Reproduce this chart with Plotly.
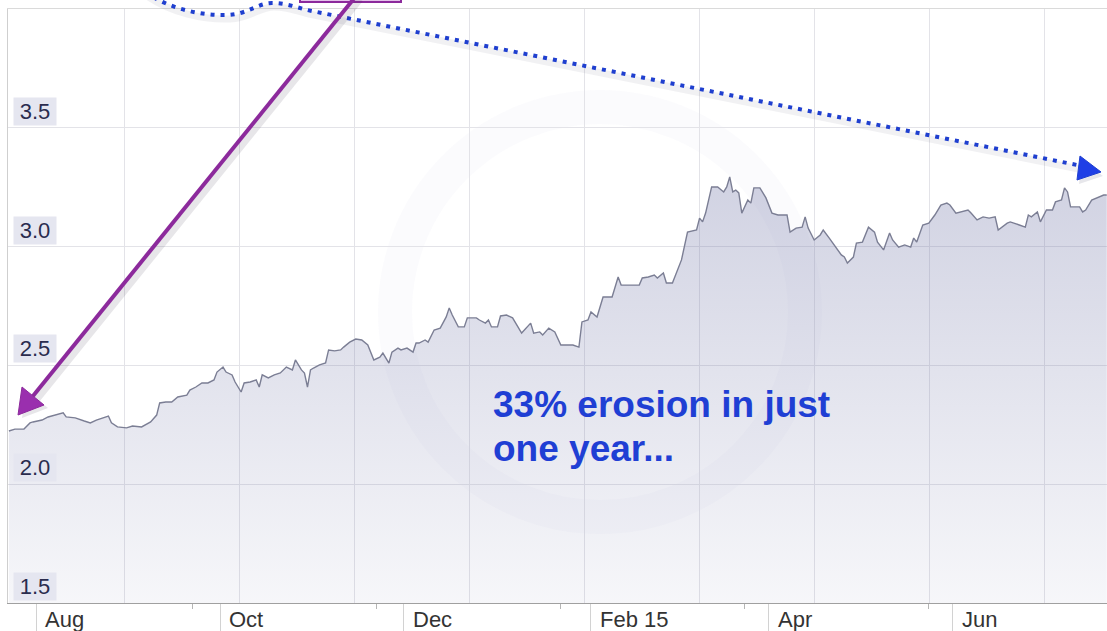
import plotly.graph_objects as go

# ---- exchange-rate series (one year of closes) ----
DATES = [
    "2014-07-23", "2014-07-25", "2014-07-28", "2014-07-30", "2014-07-31", "2014-08-03", "2014-08-05",
    "2014-08-07", "2014-08-10", "2014-08-11", "2014-08-14", "2014-08-17", "2014-08-19", "2014-08-21",
    "2014-08-25", "2014-08-26", "2014-08-28", "2014-08-31", "2014-09-02", "2014-09-05", "2014-09-08",
    "2014-09-10", "2014-09-11", "2014-09-13", "2014-09-15", "2014-09-17", "2014-09-20", "2014-09-21",
    "2014-09-23", "2014-09-25", "2014-09-27", "2014-09-29", "2014-09-30", "2014-10-02", "2014-10-03",
    "2014-10-05", "2014-10-06", "2014-10-08", "2014-10-09", "2014-10-11", "2014-10-13", "2014-10-14",
    "2014-10-15", "2014-10-17", "2014-10-19", "2014-10-21", "2014-10-23", "2014-10-25", "2014-10-26",
    "2014-10-28", "2014-10-29", "2014-10-30", "2014-10-31", "2014-11-01", "2014-11-03", "2014-11-05",
    "2014-11-06", "2014-11-08", "2014-11-10", "2014-11-11", "2014-11-13", "2014-11-15", "2014-11-17",
    "2014-11-19", "2014-11-20", "2014-11-21", "2014-11-23", "2014-11-24", "2014-11-26", "2014-11-27",
    "2014-11-29", "2014-11-30", "2014-12-02", "2014-12-04", "2014-12-05", "2014-12-06", "2014-12-08",
    "2014-12-09", "2014-12-11", "2014-12-13", "2014-12-15", "2014-12-16", "2014-12-17", "2014-12-19",
    "2014-12-21", "2014-12-22", "2014-12-25", "2014-12-26", "2014-12-28", "2014-12-29", "2014-12-30",
    "2015-01-01", "2015-01-02", "2015-01-04", "2015-01-06", "2015-01-07", "2015-01-09", "2015-01-12",
    "2015-01-13", "2015-01-15", "2015-01-16", "2015-01-18", "2015-01-20", "2015-01-22", "2015-01-24",
    "2015-01-26", "2015-01-28", "2015-01-29", "2015-01-31", "2015-02-01", "2015-02-03", "2015-02-04",
    "2015-02-05", "2015-02-08", "2015-02-09", "2015-02-10", "2015-02-11", "2015-02-14", "2015-02-17",
    "2015-02-18", "2015-02-20", "2015-02-22", "2015-02-23", "2015-02-25", "2015-02-26", "2015-02-28",
    "2015-03-03", "2015-03-05", "2015-03-08", "2015-03-09", "2015-03-10", "2015-03-11", "2015-03-13",
    "2015-03-15", "2015-03-17", "2015-03-18", "2015-03-19", "2015-03-20", "2015-03-21", "2015-03-22",
    "2015-03-23", "2015-03-25", "2015-03-26", "2015-03-27", "2015-03-29", "2015-03-31", "2015-04-02",
    "2015-04-04", "2015-04-07", "2015-04-08", "2015-04-10", "2015-04-12", "2015-04-13", "2015-04-14",
    "2015-04-16", "2015-04-18", "2015-04-19", "2015-04-21", "2015-04-23", "2015-04-25", "2015-04-26",
    "2015-04-27", "2015-04-29", "2015-04-30", "2015-05-02", "2015-05-04", "2015-05-06", "2015-05-07",
    "2015-05-09", "2015-05-11", "2015-05-12", "2015-05-14", "2015-05-16", "2015-05-18", "2015-05-19",
    "2015-05-20", "2015-05-22", "2015-05-24", "2015-05-26", "2015-05-28", "2015-05-30", "2015-05-31",
    "2015-06-02", "2015-06-04", "2015-06-06", "2015-06-07", "2015-06-09", "2015-06-11", "2015-06-13",
    "2015-06-15", "2015-06-16", "2015-06-19", "2015-06-20", "2015-06-23", "2015-06-25", "2015-06-26",
    "2015-06-27", "2015-06-29", "2015-06-30", "2015-07-02", "2015-07-04", "2015-07-05", "2015-07-07",
    "2015-07-08", "2015-07-09", "2015-07-10", "2015-07-13", "2015-07-14", "2015-07-15", "2015-07-17",
    "2015-07-19", "2015-07-21", "2015-07-22",
]

RATES = [
    2.224, 2.232, 2.232, 2.258, 2.262, 2.270, 2.283,
    2.291, 2.300, 2.283, 2.279, 2.266, 2.258, 2.270,
    2.287, 2.258, 2.241, 2.237, 2.245, 2.241, 2.262,
    2.291, 2.342, 2.346, 2.346, 2.367, 2.375, 2.396,
    2.409, 2.426, 2.426, 2.439, 2.472, 2.493, 2.472,
    2.460, 2.430, 2.388, 2.426, 2.430, 2.439, 2.409,
    2.460, 2.447, 2.460, 2.468, 2.493, 2.481, 2.523,
    2.481, 2.468, 2.409, 2.481, 2.489, 2.502, 2.510,
    2.565, 2.561, 2.565, 2.577, 2.598, 2.611, 2.607,
    2.586, 2.556, 2.523, 2.535, 2.552, 2.510, 2.556,
    2.573, 2.565, 2.573, 2.556, 2.594, 2.594, 2.607,
    2.598, 2.649, 2.657, 2.704, 2.742, 2.712, 2.662,
    2.662, 2.700, 2.700, 2.691, 2.678, 2.691, 2.662,
    2.662, 2.708, 2.712, 2.700, 2.678, 2.636, 2.678,
    2.636, 2.641, 2.628, 2.657, 2.641, 2.586, 2.586,
    2.586, 2.577, 2.683, 2.691, 2.725, 2.704, 2.746,
    2.788, 2.788, 2.826, 2.872, 2.838, 2.838, 2.838,
    2.868, 2.872, 2.880, 2.868, 2.889, 2.847, 2.847,
    2.944, 3.061, 3.070, 3.120, 3.104, 3.141, 3.251,
    3.251, 3.230, 3.251, 3.293, 3.230, 3.238, 3.226,
    3.141, 3.196, 3.183, 3.247, 3.247, 3.205, 3.141,
    3.133, 3.133, 3.061, 3.078, 3.082, 3.125, 3.078,
    3.028, 3.049, 3.070, 3.036, 2.998, 2.965, 2.956,
    2.931, 2.956, 3.015, 3.019, 3.082, 3.061, 3.019,
    2.986, 3.057, 3.028, 2.998, 3.007, 2.998, 3.036,
    3.019, 3.091, 3.099, 3.133, 3.175, 3.183, 3.175,
    3.141, 3.146, 3.154, 3.141, 3.112, 3.125, 3.120,
    3.125, 3.070, 3.099, 3.104, 3.091, 3.082, 3.133,
    3.125, 3.146, 3.104, 3.154, 3.154, 3.188, 3.196,
    3.247, 3.230, 3.167, 3.167, 3.146, 3.154, 3.196,
    3.205, 3.217, 3.217,
]

# ---- axis ticks ----
Y_TICKS = [1.5, 2.0, 2.5, 3.0, 3.5]
Y_TICK_LABELS = ["1.5", "2.0", "2.5", "3.0", "3.5"]
X_TICK_DATES = ["2014-08-01", "2014-10-01", "2014-12-01", "2015-02-01", "2015-04-01", "2015-06-01"]
X_TICK_LABELS = ["Aug", "Oct", "Dec", "Feb 15", "Apr", "Jun"]
X_MINOR_DATES = ["2014-09-22", "2014-11-22", "2015-01-22", "2015-03-24", "2015-05-24"]
X_RANGE = ["2014-07-22 17:00", "2015-07-22 02:00"]

NOTE_LINES = ["33% erosion in just", "one year..."]

# ---- page geometry (pixels) ----
W, H = 1107, 631
L, R, T, B = 8, 0, 9, 28
PW, PH = W - L - R, H - T - B

FONT = "Liberation Sans, Arial, Helvetica, sans-serif"
GRID = "#e3e3e8"


def px(x):
    """page pixel x -> paper fraction"""
    return (x - L) / PW


def py(y):
    """page pixel y -> paper fraction"""
    return (H - B - y) / PH


def svg_path(segments, close=False):
    """segments: list of (command, points); L segments get one L per point"""
    parts = []
    for cmd, pts in segments:
        coords = [f"{px(x):.5f},{py(y):.5f}" for x, y in pts]
        if cmd == "L":
            parts.extend("L " + c for c in coords)
        else:
            parts.append(cmd + " " + " ".join(coords))
    return " ".join(parts) + (" Z" if close else "")


def shifted(segments, dx, dy):
    return [(c, [(x + dx, y + dy) for x, y in p]) for c, p in segments]


fig = go.Figure()

fig.add_trace(go.Scatter(
    x=DATES, y=RATES, mode="lines",
    line=dict(color="#7b7e94", width=1.4),
    fill="tozeroy",
    fillgradient=dict(
        type="vertical", start=1.5, stop=3.3,
        colorscale=[[0, "rgba(110,115,165,0.06)"], [1, "rgba(110,115,165,0.32)"]],
    ),
    hoverinfo="skip", showlegend=False,
))

# empty companion trace so the vertical-grid axis gets rendered
fig.add_trace(go.Scatter(
    x=[None], y=[None], xaxis="x2", yaxis="y", mode="lines",
    hoverinfo="skip", showlegend=False,
))

shapes = []

# faint circular watermark
cx, cy, r = 600, 312, 205
shapes.append(dict(type="circle", xref="paper", yref="paper", layer="below",
                   x0=px(cx - r), x1=px(cx + r), y0=py(cy + r), y1=py(cy - r),
                   line=dict(color="rgba(140,145,185,0.035)", width=34)))

# blue dotted callout arrow
blue_segments = [
    ("M", [(145, -8)]),
    ("C", [(168, 8), (200, 16), (228, 15)]),
    ("C", [(248, 14), (258, 3), (272, 3)]),
    ("C", [(285, 3), (296, 7), (307, 10)]),
    ("L", [(1082, 166)]),
]
shapes.append(dict(type="path", xref="paper", yref="paper", path=svg_path(shifted(blue_segments, 2, 4)),
                   line=dict(color="rgba(60,60,90,0.07)", width=7)))
shapes.append(dict(type="path", xref="paper", yref="paper", path=svg_path(blue_segments),
                   line=dict(color="#1f3fcf", width=4, dash="4px,6px")))
blue_head = [("M", [(1101, 172)]), ("L", [(1080, 156), (1077, 180)])]
shapes.append(dict(type="path", xref="paper", yref="paper",
                   path=svg_path(shifted(blue_head, 2, 4), close=True),
                   fillcolor="rgba(60,60,90,0.12)", line=dict(width=0)))
shapes.append(dict(type="path", xref="paper", yref="paper", path=svg_path(blue_head, close=True),
                   fillcolor="#1f3fe6", line=dict(color="#1f3fcf", width=1)))

# purple callout box (top edge of page)
shapes.append(dict(type="rect", xref="paper", yref="paper",
                   x0=px(300), x1=px(401), y0=py(2), y1=py(-30),
                   fillcolor="#e4c2ea", line=dict(color="#8c2a9c", width=2)))

# purple arrow pointing at the start of the series
purple_line = [("M", [(356, -4)]), ("L", [(33, 396)])]
shapes.append(dict(type="path", xref="paper", yref="paper",
                   path=svg_path(shifted(purple_line, 4, 3)),
                   line=dict(color="rgba(60,50,70,0.12)", width=7)))
shapes.append(dict(type="path", xref="paper", yref="paper", path=svg_path(purple_line),
                   line=dict(color="#8c2a9c", width=4)))
purple_head = [("M", [(18, 415)]), ("L", [(44, 405), (22, 387)])]
shapes.append(dict(type="path", xref="paper", yref="paper",
                   path=svg_path(shifted(purple_head, 4, 3), close=True),
                   fillcolor="rgba(60,50,70,0.12)", line=dict(width=0)))
shapes.append(dict(type="path", xref="paper", yref="paper", path=svg_path(purple_head, close=True),
                   fillcolor="#9a2fae", line=dict(color="#8c2a9c", width=1)))

annotations = []

# y tick labels sitting on top of their gridlines
for v, lab in zip(Y_TICKS, Y_TICK_LABELS):
    annotations.append(dict(
        text=lab, xref="paper", yref="y", x=px(13), y=v,
        xanchor="left", yanchor="bottom", yshift=2,
        showarrow=False, bgcolor="#e5e6f0", borderpad=0,
        width=42, height=27, align="center",
        font=dict(family=FONT, size=22, color="#2a2c4e"),
    ))

# x tick labels to the right of their tick marks
for d, lab in zip(X_TICK_DATES, X_TICK_LABELS):
    annotations.append(dict(
        text=lab, xref="x", yref="paper", x=d, y=py(619),
        xanchor="left", yanchor="middle", xshift=7,
        showarrow=False,
        font=dict(family=FONT, size=22, color="#333333"),
    ))

# callout text
for i, line in enumerate(NOTE_LINES):
    annotations.append(dict(
        text=line, xref="paper", yref="paper", x=px(491), y=py(404 + 44 * i),
        xanchor="left", yanchor="middle", showarrow=False,
        font=dict(family=FONT, size=37, color="#1f3fd4", weight=700),
    ))

fig.update_layout(
    width=W, height=H,
    margin=dict(l=L, r=R, t=T, b=B, pad=0),
    paper_bgcolor="white", plot_bgcolor="white",
    showlegend=False, hovermode=False,
    xaxis=dict(
        type="date", range=X_RANGE,
        tickmode="array", tickvals=X_TICK_DATES, showticklabels=False,
        ticks="outside", ticklen=28, tickcolor="#d2d2d2", tickwidth=1,
        showline=True, linecolor="#a0a0a0", linewidth=1,
        showgrid=False, zeroline=False,
        minor=dict(tickmode="array", tickvals=X_MINOR_DATES, ticks="outside",
                   ticklen=5, tickcolor="#b5b5b5", showgrid=False),
    ),
    xaxis2=dict(
        overlaying="x", side="top", anchor="y",
        range=[L, W - R], tickmode="linear", tick0=9, dtick=115,
        showgrid=True, gridcolor=GRID, gridwidth=1,
        showticklabels=False, ticks="",
        showline=True, linecolor="#dadada", zeroline=False,
    ),
    yaxis=dict(
        range=[1.5, 4.0], tickmode="array", tickvals=Y_TICKS,
        showticklabels=False, ticks="",
        showgrid=True, gridcolor=GRID, gridwidth=1,
        showline=True, linecolor="#cfcfcf", zeroline=False,
    ),
    shapes=shapes,
    annotations=annotations,
)

fig.write_html("out.html")
